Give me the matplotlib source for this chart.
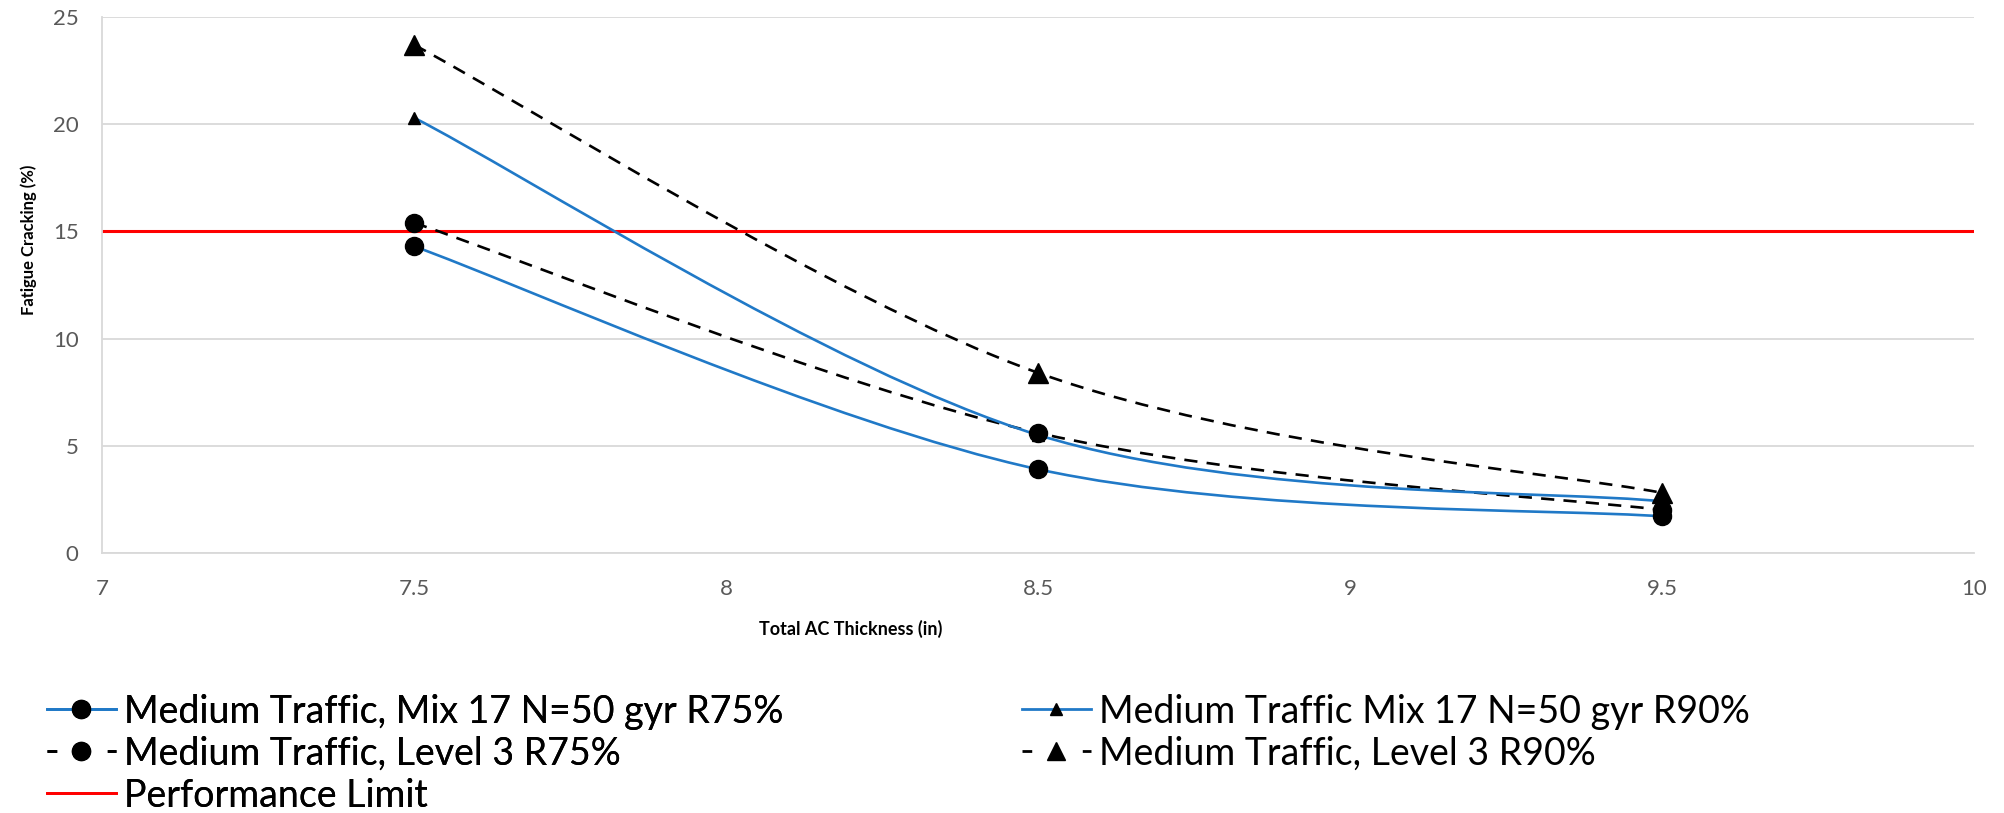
import numpy as np
import matplotlib
matplotlib.use("Agg")
from matplotlib import pyplot as plt
from matplotlib.path import Path
from matplotlib.patches import PathPatch
from matplotlib.lines import Line2D

# Data
thickness = [7.5, 8.5, 9.5]
mix17_r75 = [14.3, 3.9, 1.7]
mix17_r90 = [20.3, 5.5, 2.4]
level3_r75 = [15.4, 5.6, 2.0]
level3_r90 = [23.7, 8.4, 2.8]
performance_limit = 15
x_ticks = [7, 7.5, 8, 8.5, 9, 9.5, 10]
x_tick_labels = ["7", "7.5", "8", "8.5", "9", "9.5", "10"]
y_ticks = [0, 5, 10, 15, 20, 25]

plt.rcParams['font.family'] = ['Lato', 'DejaVu Sans']

blue = '#2079c7'
tick_gray = '#595959'
grid_gray = '#d9d9d9'


def smooth_path(xs, ys):
    # Excel-style smoothed line: cubic Bezier segments through each point
    pts = np.column_stack([xs, ys]).astype(float)
    padded = np.vstack([pts[0], pts, pts[-1]])
    verts = [pts[0]]
    codes = [Path.MOVETO]
    for i in range(len(pts) - 1):
        p0, p1, p2, p3 = padded[i], padded[i + 1], padded[i + 2], padded[i + 3]
        c1 = p1 + (p2 - p0) / 6.0
        c2 = p2 - (p3 - p1) / 6.0
        verts += [c1, c2, p2]
        codes += [Path.CURVE4] * 3
    return Path(verts, codes)


fig = plt.figure(figsize=(20.04, 8.13), dpi=100)
ax = fig.add_axes([0.051, 0.320, 0.934, 0.659])

dash = (0, (5, 3.5))
series = [
    (mix17_r75, blue, '-', 'o', 13),
    (level3_r75, 'black', dash, 'o', 13),
    (mix17_r90, blue, '-', '^', 9),
    (level3_r90, 'black', dash, '^', 14),
]

ax.axhline(performance_limit, color='#ff0000', lw=2.2, zorder=2)

for ys, col, ls, mk, ms in series:
    patch = PathPatch(smooth_path(thickness, ys), facecolor='none', edgecolor=col,
                      lw=1.9, linestyle=ls, zorder=3)
    ax.add_patch(patch)
    ax.plot(thickness, ys, linestyle='none', marker=mk, markersize=ms,
            color='black', zorder=4)

ax.set_xlim(7, 10)
ax.set_ylim(0, 25)
ax.set_xticks(x_ticks)
ax.set_xticklabels(x_tick_labels)
ax.set_yticks(y_ticks)
ax.grid(axis='y', color=grid_gray, lw=1.3)
ax.set_axisbelow(True)
for side in ['top', 'right']:
    ax.spines[side].set_visible(False)
for side in ['left', 'bottom']:
    ax.spines[side].set_color(grid_gray)
    ax.spines[side].set_linewidth(1.3)
ax.tick_params(axis='both', length=0, labelsize=16, colors=tick_gray)
ax.tick_params(axis='x', pad=19)
ax.tick_params(axis='y', pad=17)
ax.set_xlabel("Total AC Thickness (in)", fontsize=13, fontweight='bold')
ax.set_ylabel("Fatigue Cracking (%)", fontsize=12, fontweight='bold')
ax.xaxis.set_label_coords(0.40, -0.125)
ax.yaxis.set_label_coords(-0.035, 0.584)

# Legend below the plot, two columns
short_dash = (0, (3.5, 18.2))
h1 = Line2D([], [], color=blue, lw=2, marker='o', markersize=13, markerfacecolor='black', markeredgecolor='black')
h2 = Line2D([], [], color='black', lw=2, linestyle=short_dash, marker='o', markersize=13)
h3 = Line2D([], [], color='#ff0000', lw=2)
h4 = Line2D([], [], color=blue, lw=2, marker='^', markersize=9, markerfacecolor='black', markeredgecolor='black')
h5 = Line2D([], [], color='black', lw=2, linestyle=short_dash, marker='^', markersize=13)

leg_kw = dict(frameon=False, fontsize=27, handlelength=1.85, handletextpad=0.21,
              labelspacing=0.16, borderpad=0, loc='upper left')
leg1 = fig.legend([h1, h2, h3],
                  ["Medium Traffic, Mix 17 N=50 gyr R75%",
                   "Medium Traffic, Level 3 R75%",
                   "Performance Limit"],
                  bbox_to_anchor=(0.014, 0.170), **leg_kw)
fig.add_artist(leg1)
fig.legend([h4, h5],
           ["Medium Traffic Mix 17 N=50 gyr R90%",
            "Medium Traffic, Level 3 R90%"],
           bbox_to_anchor=(0.5005, 0.170), **leg_kw)

fig.savefig("out.png", dpi=100)
